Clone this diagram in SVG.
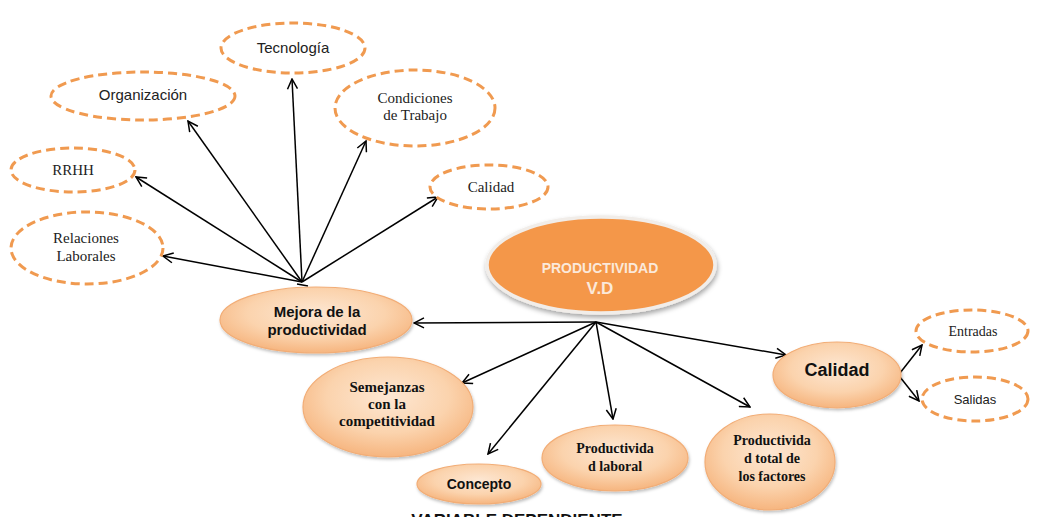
<svg xmlns="http://www.w3.org/2000/svg" width="1041" height="517" viewBox="0 0 1041 517">
<defs>
<style>
.dash{fill:#fff;stroke:#f09a50;stroke-width:3;stroke-dasharray:9 5}
.soft{fill:url(#lg);stroke:#f2ad76;stroke-width:1.2;filter:url(#sh)}
.con{stroke:#000;stroke-width:1.5;fill:none;marker-end:url(#ah)}
.serif{font-family:"Liberation Serif","Times New Roman",serif;fill:#222}
.sans{font-family:"Liberation Sans",Arial,sans-serif;fill:#222}
.bs{font-family:"Liberation Serif","Times New Roman",serif;font-weight:bold;fill:#111}
.bsans{font-family:"Liberation Sans",Arial,sans-serif;font-weight:bold;fill:#111}
</style>
<radialGradient id="lg" cx="50%" cy="40%" r="60%">
<stop offset="0" stop-color="#fde7d3"/>
<stop offset="0.6" stop-color="#fbd3ad"/>
<stop offset="1" stop-color="#f6b57f"/>
</radialGradient>
<filter id="sh" x="-20%" y="-20%" width="140%" height="150%">
<feDropShadow dx="1" dy="2" stdDeviation="1.5" flood-color="#000" flood-opacity="0.25"/>
</filter>
<filter id="sh2" x="-20%" y="-20%" width="140%" height="150%">
<feDropShadow dx="1" dy="3" stdDeviation="2.5" flood-color="#000" flood-opacity="0.35"/>
</filter>
<marker id="ah" viewBox="0 0 12 12" refX="11" refY="6" markerWidth="12" markerHeight="12" markerUnits="userSpaceOnUse" orient="auto">
<path d="M1,1 L11,6 L1,11" fill="none" stroke="#000" stroke-width="1.5"/>
</marker>
</defs>
<rect width="1041" height="517" fill="#fff"/>

<g id="connectors">
<line class="con" x1="302" y1="282" x2="163" y2="256"/>
<line class="con" x1="302" y1="282" x2="136" y2="177"/>
<line class="con" x1="302" y1="282" x2="188" y2="121"/>
<line class="con" x1="302" y1="282" x2="292" y2="79"/>
<line class="con" x1="302" y1="282" x2="366" y2="141"/>
<line class="con" x1="302" y1="282" x2="438" y2="197"/>
<line x1="297" y1="284" x2="308" y2="286" stroke="#000" stroke-width="1.5"/>
<line class="con" x1="596" y1="322" x2="414" y2="323"/>
<line class="con" x1="596" y1="322" x2="462" y2="383"/>
<line class="con" x1="596" y1="322" x2="488" y2="454"/>
<line class="con" x1="596" y1="322" x2="613" y2="419"/>
<line class="con" x1="596" y1="322" x2="750" y2="407"/>
<line class="con" x1="596" y1="322" x2="786" y2="355"/>
<line class="con" x1="900" y1="373" x2="922" y2="345"/>
<line class="con" x1="900" y1="377" x2="919" y2="401"/>
</g>

<g id="tecnologia">
<ellipse class="dash" cx="293" cy="48" rx="72" ry="25"/>
<text class="sans" x="293" y="53" font-size="15" text-anchor="middle">Tecnología</text>
</g>
<g id="organizacion">
<ellipse class="dash" cx="143" cy="96" rx="92" ry="24"/>
<text class="sans" x="143" y="100" font-size="15" text-anchor="middle">Organización</text>
</g>
<g id="condiciones">
<ellipse class="dash" cx="415" cy="108" rx="80" ry="38"/>
<text class="serif" x="415" y="103" font-size="15" text-anchor="middle">Condiciones</text>
<text class="serif" x="415" y="120" font-size="15" text-anchor="middle">de Trabajo</text>
</g>
<g id="rrhh">
<ellipse class="dash" cx="73" cy="170" rx="62" ry="22"/>
<text class="serif" x="73" y="175" font-size="15" text-anchor="middle">RRHH</text>
</g>
<g id="calidad-top">
<ellipse class="dash" cx="489" cy="187" rx="59" ry="22"/>
<text class="serif" x="491" y="192" font-size="15" text-anchor="middle">Calidad</text>
</g>
<g id="relaciones">
<ellipse class="dash" cx="87" cy="248" rx="76" ry="36"/>
<text class="serif" x="86" y="243" font-size="15" text-anchor="middle">Relaciones</text>
<text class="serif" x="86" y="261" font-size="15" text-anchor="middle">Laborales</text>
</g>

<g id="productividad">
<ellipse cx="601" cy="265" rx="114" ry="48" fill="#f4974a" stroke="#f1ede9" stroke-width="3.5" filter="url(#sh2)"/>
<text x="600" y="273" font-family="Liberation Sans,Arial,sans-serif" font-weight="bold" font-size="14" fill="#fbe9da" text-anchor="middle">PRODUCTIVIDAD</text>
<text x="600" y="294" font-family="Liberation Sans,Arial,sans-serif" font-weight="bold" font-size="17" fill="#fbe9da" text-anchor="middle">V.D</text>
</g>

<g id="mejora">
<ellipse class="soft" cx="316" cy="320" rx="96" ry="33"/>
<text class="bsans" x="317" y="317" font-size="15" text-anchor="middle">Mejora de la</text>
<text class="bsans" x="317" y="335" font-size="15" text-anchor="middle">productividad</text>
</g>
<g id="semejanzas">
<ellipse class="soft" cx="388" cy="407" rx="85" ry="50"/>
<text class="bs" x="387" y="392" font-size="15" text-anchor="middle">Semejanzas</text>
<text class="bs" x="387" y="409" font-size="15" text-anchor="middle">con la</text>
<text class="bs" x="387" y="426" font-size="15" text-anchor="middle">competitividad</text>
</g>
<g id="concepto">
<ellipse class="soft" cx="479" cy="484" rx="62" ry="20"/>
<text class="bsans" x="479" y="489" font-size="14" text-anchor="middle">Concepto</text>
</g>
<g id="prod-laboral">
<ellipse class="soft" cx="615" cy="458" rx="73" ry="33"/>
<text class="bs" x="615" y="453" font-size="14" text-anchor="middle">Productivida</text>
<text class="bs" x="615" y="471" font-size="14" text-anchor="middle">d laboral</text>
</g>
<g id="prod-total">
<ellipse class="soft" cx="770" cy="462" rx="65" ry="48"/>
<text class="bs" x="772" y="445" font-size="14" text-anchor="middle">Productivida</text>
<text class="bs" x="772" y="463" font-size="14" text-anchor="middle">d total de</text>
<text class="bs" x="772" y="481" font-size="14" text-anchor="middle">los factores</text>
</g>
<g id="calidad">
<ellipse class="soft" cx="837" cy="375" rx="64" ry="33"/>
<text class="bsans" x="837" y="376" font-size="18" text-anchor="middle">Calidad</text>
</g>
<g id="entradas">
<ellipse class="dash" cx="972" cy="331" rx="56" ry="21"/>
<text class="serif" x="973" y="336" font-size="14" text-anchor="middle">Entradas</text>
</g>
<g id="salidas">
<ellipse class="dash" cx="975" cy="399" rx="53" ry="22"/>
<text class="sans" x="975" y="404" font-size="13" text-anchor="middle">Salidas</text>
</g>

<g id="caption">
<text class="bsans" x="517" y="526" font-size="17" text-anchor="middle">VARIABLE DEPENDIENTE</text>
</g>
</svg>
